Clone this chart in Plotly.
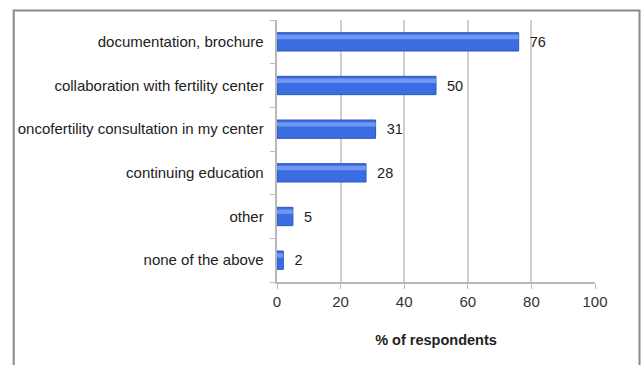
import plotly.graph_objects as go

categories = [
    "documentation, brochure",
    "collaboration with fertility center",
    "oncofertility consultation in my center",
    "continuing education",
    "other",
    "none of the above",
]
values = [76, 50, 31, 28, 5, 2]
x_ticks = [0, 20, 40, 60, 80, 100]

# bottom-to-top order for a horizontal bar chart
cats = categories[::-1]
vals = values[::-1]

FONT = "Liberation Sans, Arial"

fig = go.Figure()
fig.add_trace(go.Bar(
    y=cats, x=vals, orientation="h",
    width=0.42,
    marker=dict(color="#3a6de2", line=dict(color="#2b58bd", width=1)),
    text=["  " + str(v) for v in vals], textposition="outside",
    textfont=dict(family=FONT, size=14.5, color="#222"),
    cliponaxis=False,
))
# soft highlight along the upper part of each bar
fig.add_trace(go.Bar(
    y=cats, x=vals, orientation="h",
    width=0.10, offset=0.06,
    marker=dict(color="#6f97f0", line=dict(width=0)),
    hoverinfo="skip",
))

fig.update_layout(
    width=643, height=365,
    margin=dict(l=277, r=48, t=20, b=83),
    paper_bgcolor="white", plot_bgcolor="white",
    showlegend=False, barmode="overlay",
    font=dict(family=FONT, size=14, color="#222"),
    xaxis=dict(
        range=[0, 100], tickvals=x_ticks, ticktext=[str(t) for t in x_ticks],
        showgrid=True, gridcolor="#cfcfcf", gridwidth=2,
        showline=True, linecolor="#b8b8b8", linewidth=2,
        ticks="outside", ticklen=5, tickcolor="#b8b8b8",
        tickfont=dict(size=15, color="#333"),
        zeroline=False,
        title=dict(text="<b>% of respondents</b>", font=dict(size=14.5, color="#222"), standoff=26),
    ),
    yaxis=dict(
        showline=True, linecolor="#b8b8b8", linewidth=2,
        ticks="outside", ticklen=5, tickcolor="#b8b8b8",
        tickson="boundaries",
        tickfont=dict(size=15, color="#222"),
        showgrid=False, ticksuffix="  ",
    ),
    shapes=[
        dict(type="rect", xref="paper", yref="paper",
             x0=-0.828, x1=1.14, y0=-0.5, y1=1.036,
             line=dict(color="#8a8a8a", width=2), layer="below"),
    ],
)

fig.write_html("out.html")
